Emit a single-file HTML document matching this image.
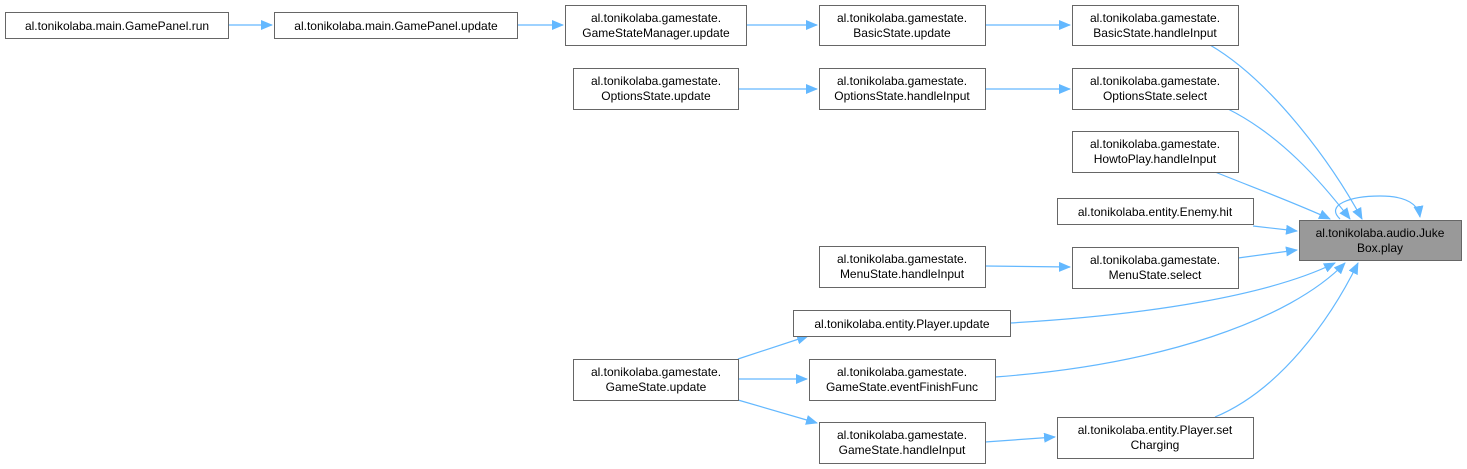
<!DOCTYPE html>
<html><head><meta charset="utf-8"><style>
html,body{margin:0;padding:0;background:#fff;}
svg{display:block;}
text{font-family:"Liberation Sans",Arial,sans-serif;font-size:12px;fill:#000;}
</style></head><body>
<svg width="1467" height="469" viewBox="0 0 1467 469" xmlns="http://www.w3.org/2000/svg">
<defs>
<marker id="a" markerWidth="12" markerHeight="10" refX="11" refY="5" orient="auto" markerUnits="userSpaceOnUse">
<path d="M0,0 L12,5 L0,10 Z" fill="#63b8ff"/>
</marker>
</defs>
<g fill="none" stroke="#63b8ff" stroke-width="1.2" marker-end="url(#a)">
<path d="M228,25 L272,25"/>
<path d="M517,25 L563,25"/>
<path d="M746,25 L817,25"/>
<path d="M985,25 L1070,25"/>
<path d="M738,89 L817,89"/>
<path d="M985,89 L1070,89"/>
<path d="M985,266 L1070,267"/>
<path d="M738,359 L808,336"/>
<path d="M738,379 L807,379"/>
<path d="M738,400 L817,423"/>
<path d="M985,442 L1055,437"/>
<path d="M1210,45 C1270,80 1330,160 1362,219"/>
<path d="M1228,109 C1280,135 1320,180 1350,219"/>
<path d="M1215,172 C1260,190 1300,205 1330,219"/>
<path d="M1253,226 L1297,231"/>
<path d="M1238,258 L1297,250"/>
<path d="M1010,323 C1150,315 1270,295 1335,263"/>
<path d="M995,377 C1160,365 1290,320 1345,263"/>
<path d="M1215,417 C1280,390 1330,320 1358,263"/>
<path d="M1340,219 C1325,205 1350,196 1380,196 C1405,196 1418,203 1420,217"/>
</g>
<g fill="#fff" stroke="#666" stroke-width="1">
<rect x="5.5" y="12.5" width="223" height="26"/>
<rect x="274.5" y="12.5" width="243" height="26"/>
<rect x="565.5" y="5.5" width="181" height="40"/>
<rect x="819.5" y="5.5" width="166" height="40"/>
<rect x="1072.5" y="5.5" width="166" height="40"/>
<rect x="573.5" y="68.5" width="165" height="41"/>
<rect x="819.5" y="68.5" width="166" height="41"/>
<rect x="1072.5" y="68.5" width="166" height="41"/>
<rect x="1072.5" y="131.5" width="166" height="41"/>
<rect x="1057.5" y="198.5" width="196" height="26"/>
<rect x="1299.5" y="220.5" width="162" height="40" fill="#999"/>
<rect x="819.5" y="246.5" width="166" height="41"/>
<rect x="1072.5" y="247.5" width="166" height="41"/>
<rect x="793.5" y="310.5" width="217" height="26"/>
<rect x="573.5" y="359.5" width="165" height="41"/>
<rect x="809.5" y="359.5" width="186" height="41"/>
<rect x="819.5" y="422.5" width="166" height="41"/>
<rect x="1057.5" y="417.5" width="196" height="41"/>
</g>
<g text-anchor="middle">
<text x="117" y="30">al.tonikolaba.main.GamePanel.run</text>
<text x="396" y="30">al.tonikolaba.main.GamePanel.update</text>
<text x="656" y="22">al.tonikolaba.gamestate.</text><text x="656" y="37">GameStateManager.update</text>
<text x="902" y="22">al.tonikolaba.gamestate.</text><text x="902" y="37">BasicState.update</text>
<text x="1155" y="22">al.tonikolaba.gamestate.</text><text x="1155" y="37">BasicState.handleInput</text>
<text x="656" y="85">al.tonikolaba.gamestate.</text><text x="656" y="100">OptionsState.update</text>
<text x="902" y="85">al.tonikolaba.gamestate.</text><text x="902" y="100">OptionsState.handleInput</text>
<text x="1155" y="85">al.tonikolaba.gamestate.</text><text x="1155" y="100">OptionsState.select</text>
<text x="1155" y="148">al.tonikolaba.gamestate.</text><text x="1155" y="163">HowtoPlay.handleInput</text>
<text x="1155" y="216">al.tonikolaba.entity.Enemy.hit</text>
<text x="1380" y="237">al.tonikolaba.audio.Juke</text><text x="1380" y="252">Box.play</text>
<text x="902" y="263">al.tonikolaba.gamestate.</text><text x="902" y="278">MenuState.handleInput</text>
<text x="1155" y="264">al.tonikolaba.gamestate.</text><text x="1155" y="279">MenuState.select</text>
<text x="902" y="328">al.tonikolaba.entity.Player.update</text>
<text x="656" y="376">al.tonikolaba.gamestate.</text><text x="656" y="391">GameState.update</text>
<text x="902" y="376">al.tonikolaba.gamestate.</text><text x="902" y="391">GameState.eventFinishFunc</text>
<text x="902" y="439">al.tonikolaba.gamestate.</text><text x="902" y="454">GameState.handleInput</text>
<text x="1155" y="434">al.tonikolaba.entity.Player.set</text><text x="1155" y="449">Charging</text>
</g>
</svg>
</body></html>
